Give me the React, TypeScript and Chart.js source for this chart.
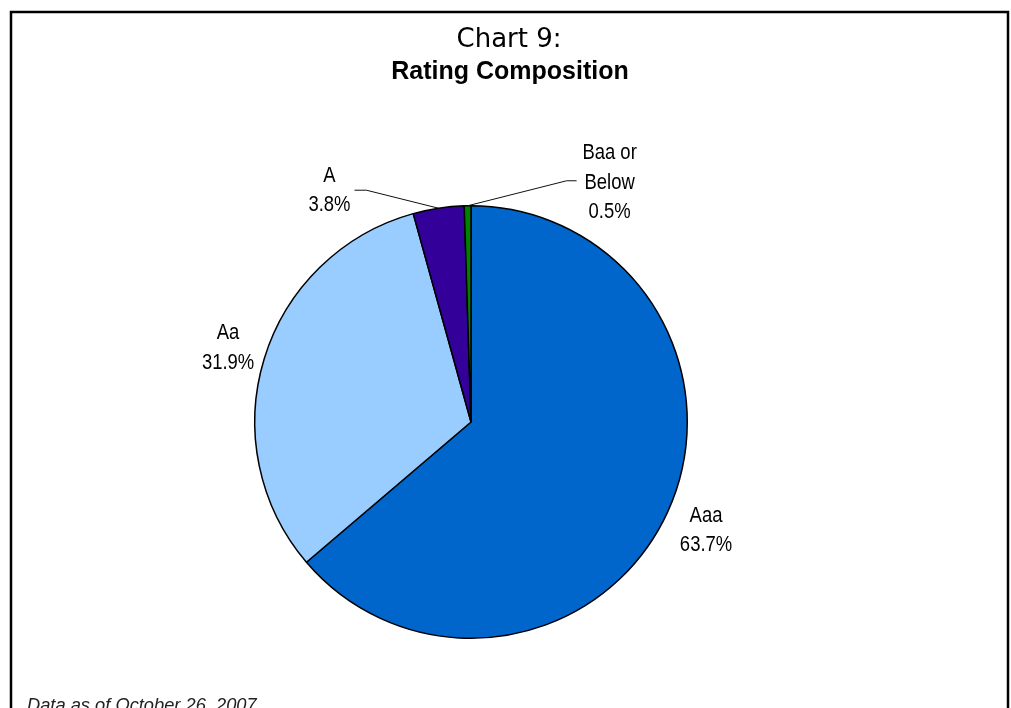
import React, { useEffect, useRef } from "react";
import { Chart, registerables } from "chart.js";

Chart.register(...registerables);

// Rating buckets and their share of the portfolio (%)
const categoryLines: string[][] = [["Aaa"], ["Aa"], ["A"], ["Baa or", "Below"]];
const categories: string[] = categoryLines.map((l) => l.join(" "));
const shares: number[] = [63.7, 31.9, 3.8, 0.5];
const sliceColors: string[] = ["#0066CC", "#99CCFF", "#330099", "#008000"];

const titleLine1 = "Chart 9:";
const titleLine2 = "Rating Composition";
const footnote = "Data as of October 26, 2007";

// How each slice label is placed: radially outside the arc, or with a leader line
type Placement =
  | { mode: "radial"; dist: number }
  | { mode: "leader"; dx: number; dy: number; tail: number; gap: number; textDy: number };

const placements: Placement[] = [
  { mode: "radial", dist: 1.197 },
  { mode: "radial", dist: 1.175 },
  { mode: "leader", dx: -72, dy: -18, tail: -12, gap: -25, textDy: 0 },
  { mode: "leader", dx: 99, dy: -25, tail: 10, gap: 33, textDy: 2 },
];

// Narrow sans look: regular sans squeezed horizontally
const LABEL_FONT = '22.5px "Liberation Sans Narrow", "Arial Narrow", "Liberation Sans", sans-serif';
const LABEL_SQUEEZE = 0.82;
const LINE_H = 29.5;

const framePlugin = {
  id: "frame",
  beforeDraw(chart: Chart) {
    const ctx = chart.ctx;
    ctx.save();
    ctx.fillStyle = "#ffffff";
    ctx.fillRect(0, 0, chart.width, chart.height);
    ctx.strokeStyle = "#000000";
    ctx.lineWidth = 2.5;
    ctx.strokeRect(11, 12, 997, chart.height + 20);
    ctx.fillStyle = "#000000";
    ctx.textAlign = "center";
    ctx.textBaseline = "alphabetic";
    ctx.font = '26px "DejaVu Sans", "Liberation Sans", sans-serif';
    ctx.fillText(titleLine1, 509, 47);
    ctx.font = 'bold 25px "Liberation Sans", Arial, sans-serif';
    ctx.fillText(titleLine2, 510, 79);
    ctx.textAlign = "left";
    ctx.font = 'italic 18.3px "Liberation Sans", Arial, sans-serif';
    ctx.fillStyle = "#222222";
    ctx.fillText(footnote, 27, 711);
    ctx.restore();
  },
};

const sliceLabelPlugin = {
  id: "sliceLabels",
  afterDatasetsDraw(chart: Chart) {
    const ctx = chart.ctx;
    const meta = chart.getDatasetMeta(0);
    ctx.save();
    meta.data.forEach((el: any, i: number) => {
      const { x, y, startAngle, endAngle, outerRadius } = el.getProps(
        ["x", "y", "startAngle", "endAngle", "outerRadius"],
        true
      );
      const mid = (startAngle + endAngle) / 2;
      const lines = [...categoryLines[i], `${shares[i].toFixed(1)}%`];
      const p = placements[i];
      let cx: number;
      let cy: number;
      if (p.mode === "radial") {
        cx = x + Math.cos(mid) * outerRadius * p.dist;
        cy = y + Math.sin(mid) * outerRadius * p.dist;
      } else {
        const sx = x + Math.cos(mid) * outerRadius;
        const sy = y + Math.sin(mid) * outerRadius;
        const ex = sx + p.dx;
        const ey = sy + p.dy;
        ctx.beginPath();
        ctx.strokeStyle = "#111111";
        ctx.lineWidth = 1;
        ctx.moveTo(sx, sy);
        ctx.lineTo(ex, ey);
        ctx.lineTo(ex + p.tail, ey);
        ctx.stroke();
        cx = ex + p.tail + p.gap;
        cy = ey + p.textDy;
      }
      const top = -((lines.length - 1) * LINE_H) / 2;
      ctx.save();
      ctx.translate(cx, cy);
      ctx.scale(LABEL_SQUEEZE, 1);
      ctx.font = LABEL_FONT;
      ctx.fillStyle = "#000000";
      ctx.textAlign = "center";
      ctx.textBaseline = "middle";
      lines.forEach((t, k) => ctx.fillText(t, 0, top + k * LINE_H));
      ctx.restore();
    });
    ctx.restore();
  },
};

export default function App() {
  const canvasRef = useRef<HTMLCanvasElement | null>(null);

  useEffect(() => {
    if (!canvasRef.current) return;
    const chart = new Chart(canvasRef.current, {
      type: "pie",
      data: {
        labels: categories,
        datasets: [
          {
            data: shares,
            backgroundColor: sliceColors,
            borderColor: "#000000",
            borderWidth: 1.5,
          },
        ],
      },
      options: {
        responsive: false,
        animation: false,
        events: [],
        layout: { padding: { left: 254, top: 205, right: 323, bottom: 69 } },
        plugins: {
          legend: { display: false },
          title: { display: false },
          tooltip: { enabled: false },
        },
      },
      plugins: [framePlugin, sliceLabelPlugin],
    });
    return () => chart.destroy();
  }, []);

  return (
    <div style={{ position: "fixed", left: 0, top: 0, width: 1011, height: 708, background: "#fff" }}>
      <canvas ref={canvasRef} width={1011} height={708} style={{ width: 1011, height: 708, display: "block" }} />
    </div>
  );
}
